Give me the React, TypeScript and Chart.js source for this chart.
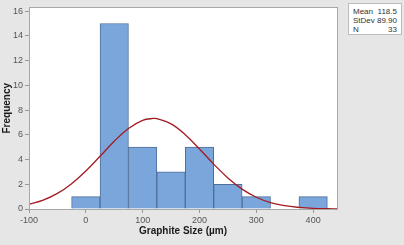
import React, { useEffect, useRef } from "react";
import { Chart, registerables } from "chart.js";

Chart.register(...registerables);

// Histogram bins (centre of each 50 µm bin) and their counts
const binCenters = [0, 50, 100, 150, 200, 250, 300, 400];
const frequencies = [1, 15, 5, 3, 5, 2, 1, 1];

// Fitted normal curve
const curveX = [-100, -75, -50, -25, 0, 25, 50, 75, 100, 118.5, 125, 150, 175, 200, 225, 250, 275, 300, 325, 350, 375, 400, 425, 442];
const curveY = [0.38, 0.72, 1.26, 2.05, 3.07, 4.26, 5.48, 6.51, 7.17, 7.32, 7.3, 6.88, 6.01, 4.85, 3.63, 2.51, 1.61, 0.95, 0.52, 0.27, 0.13, 0.05, 0.02, 0.01];

const xTicks = [-100, 0, 100, 200, 300, 400];
const yTicks = [0, 2, 4, 6, 8, 10, 12, 14, 16];

const statLabels = ["Mean", "StDev", "N"];
const statValues = ["118.5", "89.90", "33"];

const FONT = "'Liberation Sans', Arial, sans-serif";

const plotFrame = {
  id: "plotFrame",
  beforeDatasetsDraw(chart: any) {
    const { ctx, chartArea: a } = chart;
    ctx.save();
    ctx.fillStyle = "#ffffff";
    ctx.fillRect(a.left, a.top, a.right - a.left, a.bottom - a.top);
    ctx.restore();
  },
  afterDatasetsDraw(chart: any) {
    const { ctx, chartArea: a } = chart;
    ctx.save();
    ctx.strokeStyle = "#a8a8a8";
    ctx.lineWidth = 1;
    ctx.strokeRect(Math.round(a.left) + 0.5, Math.round(a.top) + 0.5, Math.round(a.right - a.left), Math.round(a.bottom - a.top));
    ctx.restore();
  },
};

export default function App() {
  const ref = useRef<HTMLCanvasElement | null>(null);

  useEffect(() => {
    document.body.style.margin = "0";
    const canvas = ref.current;
    if (!canvas) return;
    const chart = new Chart(canvas, {
      type: "bar",
      data: {
        datasets: [
          {
            type: "line",
            data: curveX.map((x, i) => ({ x, y: curveY[i] })),
            borderColor: "#a11b22",
            borderWidth: 1.3,
            pointRadius: 0,
            tension: 0.4,
            fill: false,
            order: 0,
          } as any,
          {
            type: "bar",
            data: binCenters.map((x, i) => ({ x, y: frequencies[i] })),
            backgroundColor: "#7ba6dc",
            borderColor: "#4d6f98",
            borderWidth: 1,
            barPercentage: 1,
            categoryPercentage: 1,
            grouped: false,
            order: 1,
          } as any,
        ],
      },
      options: {
        animation: false,
        responsive: false,
        maintainAspectRatio: false,
        layout: { padding: { left: 0, top: 3, right: 67, bottom: 0 } },
        plugins: { legend: { display: false }, tooltip: { enabled: false } },
        scales: {
          x: {
            type: "linear",
            offset: false,
            min: -100,
            max: 442,
            afterFit: (s: any) => {
              s.height = 36;
            },
            afterBuildTicks: (s: any) => {
              s.ticks = xTicks.map((v) => ({ value: v }));
            },
            border: { display: false },
            grid: { offset: false, drawOnChartArea: false, drawTicks: true, tickLength: 4, color: "#999" },
            ticks: { color: "#555", font: { family: FONT, size: 9 }, padding: 2, maxRotation: 0 },
            title: {
              display: true,
              text: "Graphite Size (µm)",
              color: "#1a1a1a",
              font: { family: FONT, size: 10, weight: "bold" },
              padding: { top: 0, bottom: 8 },
            },
          },
          y: {
            type: "linear",
            min: 0,
            max: 16.3,
            afterFit: (s: any) => {
              s.width = 29;
            },
            afterBuildTicks: (s: any) => {
              s.ticks = yTicks.map((v) => ({ value: v }));
            },
            border: { display: false },
            grid: { drawOnChartArea: false, drawTicks: true, tickLength: 4, color: "#999" },
            ticks: { color: "#555", font: { family: FONT, size: 9 }, padding: 2 },
            title: {
              display: true,
              text: "Frequency",
              color: "#1a1a1a",
              font: { family: FONT, size: 10, weight: "bold" },
              padding: { top: 1, bottom: 0 },
            },
          },
        },
      },
      plugins: [plotFrame],
    });
    return () => chart.destroy();
  }, []);

  return (
    <div style={{ position: "relative", width: 404, height: 245, background: "#e6e6e6", overflow: "hidden" }}>
      <canvas ref={ref} width={404} height={245} style={{ display: "block" }} />
      <div
        style={{
          position: "absolute",
          left: 348,
          top: 3,
          width: 54,
          height: 32,
          background: "#ffffff",
          border: "1px solid #bdbdbd",
          fontFamily: FONT,
          fontSize: 8,
          color: "#333",
          padding: "3px 4px 0 4px",
          boxSizing: "border-box",
          lineHeight: "9px",
        }}
      >
        {statLabels.map((l, i) => (
          <div key={l} style={{ display: "flex", justifyContent: "space-between" }}>
            <span>{l}</span>
            <span>{statValues[i]}</span>
          </div>
        ))}
      </div>
    </div>
  );
}
